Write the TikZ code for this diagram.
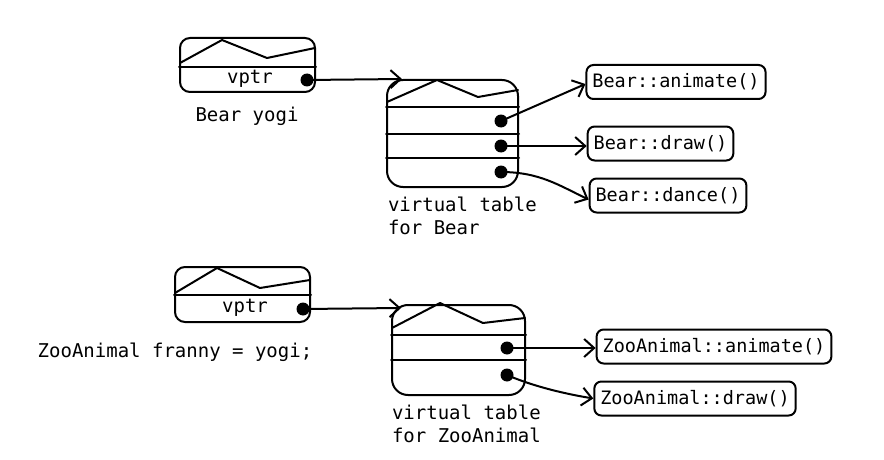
\documentclass[tikz,border=0pt]{standalone}
\usepackage{fontspec}
\setmonofont{DejaVu Sans Mono}
\usetikzlibrary{arrows.meta,calc}
\begin{document}
\begin{tikzpicture}[x=1pt,y=-1pt,line width=2pt,line join=round,line cap=round,
  objbox/.style={draw,rounded corners=10pt,inner sep=0pt},
  tblbox/.style={draw,rounded corners=16pt,inner sep=0pt},
  fnbox/.style={draw,rounded corners=7pt,font=\ttfamily\fontsize{18.5}{21}\selectfont,inner xsep=6pt,inner ysep=0pt,minimum height=34pt},
  lbl/.style={font=\ttfamily\fontsize{19}{23}\selectfont,align=left,inner sep=0pt},
  dotn/.style={circle,fill,draw=none,inner sep=0pt,minimum size=13pt},
  ptr/.style={-{Straight Barb[length=10pt,width=18pt,line width=2pt]}}]
\fill[white] (0,0) rectangle (884,460);
\useasboundingbox (0,0) rectangle (884,460);

% ---------- top: Bear yogi ----------
\node[objbox,minimum width=135pt,minimum height=54pt] (ob1) at (247.5,65) {};
\draw (ob1.west |- 0,67) -- (ob1.east |- 0,67);
\draw (180,63) -- (222,40) -- (267,58) -- (315,48);
\node[lbl] (vp1) at (250,79) {vptr};
\node[dotn] (p1) at (307,80) {};
\node[lbl] (ly) at (247,116) {Bear yogi};

\node[tblbox,minimum width=131pt,minimum height=107pt] (vt1) at (452.5,133.5) {};
\draw (vt1.west |- 0,107) -- (vt1.east |- 0,107);
\draw (vt1.west |- 0,134) -- (vt1.east |- 0,134);
\draw (vt1.west |- 0,158) -- (vt1.east |- 0,158);
\draw (387,102) -- (437,80) -- (478,97) -- (518,90);
\node[dotn] (d1) at (501,121) {};
\node[dotn] (d2) at (501,146) {};
\node[dotn] (d3) at (501,172) {};
\node[lbl,anchor=west] (lt1) at (387,216) {virtual table\\for Bear};

\node[fnbox] (fa) at (676,82) {Bear::animate()};
\node[fnbox] (fd) at (660.5,143.5) {Bear::draw()};
\node[fnbox] (fc) at (668,195.5) {Bear::dance()};

\coordinate (t1) at ($(vt1.north west)+(16,0)$);
\draw[ptr] (p1.center) -- (t1);
\draw[ptr] (d1.center) -- ($(fa.west)+(0,2)$);
\draw[ptr] (d2.center) -- (fd.west |- d2);
\draw[ptr] (d3.center) .. controls (540,172) and (560,186) .. ($(fc.west)+(0,4)$);

% ---------- bottom: ZooAnimal franny ----------
\node[objbox,minimum width=135pt,minimum height=55pt] (ob2) at (242.5,294.5) {};
\draw (ob2.west |- 0,295) -- (ob2.east |- 0,295);
\draw (175,293) -- (217,268) -- (260,288) -- (310,280);
\node[lbl] (vp2) at (245,308) {vptr};
\node[dotn] (p2) at (303,309) {};
\node[lbl] (lf) at (175,352) {ZooAnimal franny = yogi;};

\node[tblbox,minimum width=133pt,minimum height=90pt] (vt2) at (458.5,350) {};
\draw (vt2.west |- 0,335) -- (vt2.east |- 0,335);
\draw (vt2.west |- 0,360) -- (vt2.east |- 0,360);
\draw (392,328) -- (440,303) -- (483,323) -- (525,318);
\node[dotn] (z1) at (507,348) {};
\node[dotn] (z2) at (507,375) {};
\node[lbl,anchor=west] (lt2) at (391,424) {virtual table\\for ZooAnimal};

\node[fnbox] (za) at (714,346.5) {ZooAnimal::animate()};
\node[fnbox] (zd) at (695,398.5) {ZooAnimal::draw()};

\coordinate (t2) at ($(vt2.north west)+(10,4)$);
\draw[ptr] (p2.center) -- (t2);
\draw[ptr] (z1.center) -- (za.west |- z1);
\draw[ptr] (z2.center) .. controls (530,385) and (560,393) .. ($(zd.west)+(0,0)$);
\end{tikzpicture}
\end{document}
